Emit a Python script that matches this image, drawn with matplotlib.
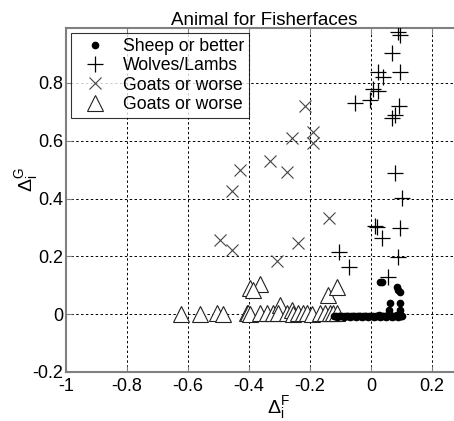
import numpy as np
import matplotlib
matplotlib.use("Agg")
import matplotlib.pyplot as plt
from matplotlib.ticker import FuncFormatter

plt.rcParams['font.family'] = ['Liberation Sans', 'DejaVu Sans']
plt.rcParams['mathtext.fontset'] = 'custom'
plt.rcParams['mathtext.rm'] = 'Liberation Sans'
plt.rcParams['mathtext.it'] = 'Liberation Sans'

# sheep or better (filled dots)
sheep_x = [-0.12, -0.115, -0.11, -0.105, -0.10, -0.095, -0.09, -0.085, -0.08, -0.075,
           -0.07, -0.065, -0.06, -0.055, -0.05, -0.045, -0.04, -0.035, -0.03, -0.025,
           -0.02, -0.015, -0.01, -0.005, 0.0, 0.005, 0.01, 0.015, 0.02, 0.025,
           0.03, 0.035, 0.04, 0.045, 0.05, 0.055, 0.06, 0.065, 0.07, 0.075,
           0.08, 0.085, 0.09, 0.095, 0.10, 0.103,
           0.030, 0.036, 0.085, 0.090, 0.095, 0.062, 0.060, 0.095, 0.094, 0.060, 0.096]
sheep_y = [-0.008, -0.006, -0.009, -0.007, -0.008, -0.006, -0.009, -0.007, -0.008, -0.006,
           -0.009, -0.007, -0.008, -0.006, -0.009, -0.007, -0.008, -0.006, -0.009, -0.007,
           -0.008, -0.006, -0.009, -0.007, -0.008, -0.006, -0.009, -0.007, -0.008, -0.004,
           -0.009, -0.007, -0.008, -0.005, -0.009, -0.007, -0.004, -0.006, -0.009, -0.007,
           -0.008, -0.004, -0.009, -0.006, -0.008, -0.005,
           0.110, 0.112, 0.094, 0.085, 0.076, 0.038, 0.015, 0.038, 0.015, 0.003, 0.002]

# wolves / lambs (plus markers)
wolves_x = [0.089, 0.095, 0.069, 0.023, 0.039, 0.095, 0.007, 0.023, -0.003, -0.052,
            0.092, 0.079, 0.069, 0.079, 0.102, 0.013, 0.020, 0.095, 0.036, 0.089,
            -0.105, -0.072, 0.056]
wolves_y = [0.977, 0.966, 0.904, 0.838, 0.821, 0.838, 0.779, 0.772, 0.741, 0.731,
            0.720, 0.689, 0.679, 0.488, 0.402, 0.305, 0.301, 0.298, 0.263, 0.197,
            0.215, 0.163, 0.128]

# goats or worse (x markers)
goats_x = [-0.216, -0.190, -0.190, -0.259, -0.331, -0.275, -0.430, -0.456, -0.138,
           -0.495, -0.456, -0.239, -0.308]
goats_y = [0.720, 0.630, 0.592, 0.610, 0.530, 0.492, 0.499, 0.426, 0.332,
           0.256, 0.222, 0.246, 0.184]

# goats or worse (triangles)
tri_x = [-0.623, -0.561, -0.505, -0.485, -0.407, -0.403, -0.397, -0.397, -0.364, -0.364,
         -0.341, -0.321, -0.298, -0.305, -0.275, -0.259, -0.256, -0.239, -0.223, -0.210,
         -0.195, -0.167, -0.151, -0.134, -0.125, -0.111, -0.141, -0.111, -0.387]
tri_y = [0.0, 0.0, 0.003, 0.0, 0.003, 0.003, 0.0, 0.09, 0.104, 0.003,
         0.003, 0.003, 0.031, 0.003, 0.003, 0.014, 0.0, 0.003, 0.003, 0.003,
         0.0, 0.003, 0.003, 0.003, 0.003, 0.003, 0.066, 0.094, 0.082]

xticks = [-1, -0.8, -0.6, -0.4, -0.2, 0, 0.2]
yticks = [-0.2, 0, 0.2, 0.4, 0.6, 0.8]

fig = plt.figure(figsize=(4.54, 4.21), dpi=100)
ax = fig.add_axes([66 / 454, 49 / 421, 396.5 / 454, 344 / 421])

ax.plot(sheep_x, sheep_y, 'o', color='black', markersize=4.5, label='Sheep or better', zorder=4)
ax.plot(wolves_x, wolves_y, '+', color='black', markersize=12, markeredgewidth=0.9,
        label='Wolves/Lambs', zorder=3)
ax.plot(goats_x, goats_y, 'x', color='#444444', markersize=8, markeredgewidth=0.8,
        label='Goats or worse', zorder=3)
ax.plot(tri_x, tri_y, '^', markerfacecolor='white', markeredgecolor='#222222',
        markersize=11, markeredgewidth=0.8, label='Goats or worse', zorder=3)

ax.set_xlim(-1, 0.3)
ax.set_ylim(-0.2, 0.99)
ax.set_xticks(xticks)
ax.set_yticks(yticks)
fmt = FuncFormatter(lambda v, p: '%g' % round(v, 2))
ax.xaxis.set_major_formatter(fmt)
ax.yaxis.set_major_formatter(fmt)
ax.tick_params(direction='in', length=4, labelsize=13, top=True, right=True,
               color='#808080', pad=2)
ax.tick_params(axis='x', pad=4)

ax.grid(True, color='black', linestyle=(0, (2.5, 2.5)), linewidth=0.7)
for s in ax.spines.values():
    s.set_color('#808080')
    s.set_linewidth(1.5)

ax.set_title('Animal for Fisherfaces', fontsize=13.5, pad=2)
ax.set_xlabel(r'$\Delta_{\mathrm{i}}^{\mathrm{F}}$', fontsize=14, labelpad=0)
ax.set_ylabel(r'$\Delta_{\mathrm{i}}^{\mathrm{G}}$', fontsize=14)
ax.xaxis.set_label_coords(0.535, -0.065)
ax.yaxis.set_label_coords(-0.065, 0.56)

leg = ax.legend(loc='upper left', fontsize=12.7, frameon=True, fancybox=False,
                edgecolor='black', borderpad=0.25, labelspacing=0.14, handletextpad=0.5,
                borderaxespad=0.3, handlelength=2.2)
leg.get_frame().set_linewidth(0.8)

fig.savefig('out.png', dpi=100)
